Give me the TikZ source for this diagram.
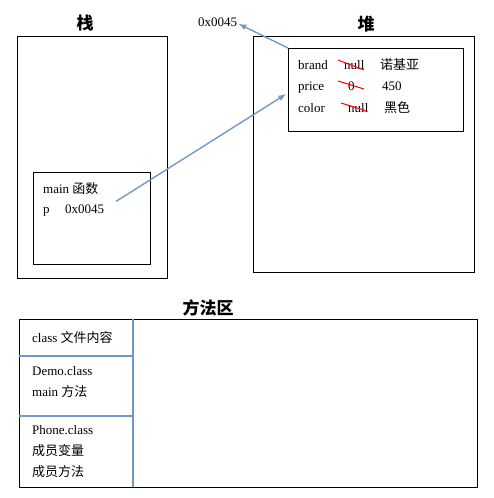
\documentclass[tikz,border=0pt]{standalone}
\usepackage{fontspec}
\setmainfont{Liberation Serif}
\newfontfamily\zhfont{Noto Sans CJK SC}
\usetikzlibrary{arrows.meta}
\definecolor{linkblue}{RGB}{114,153,198}
\definecolor{strikered}{RGB}{255,0,0}
\newcommand{\zh}[1]{{\zhfont #1}}

\begin{document}
\begin{tikzpicture}[
    x=1pt, y=-1pt,
    font=\fontsize{13}{15}\selectfont,
    area/.style={draw, thick, minimum width=#1, anchor=north west, inner sep=0pt},
    title/.style={font=\fontsize{17}{20}\selectfont\zhfont\bfseries, anchor=base},
    txt/.style={anchor=base west, inner sep=0pt},
    link/.style={draw=linkblue, line width=1.4pt, -{Latex[length=8pt, width=6pt]}},
    split/.style={draw=linkblue, line width=1.5pt},
    strike/.style={draw=strikered, line width=1pt}
  ]
    \useasboundingbox (0,0) rectangle (493,498);

    % stack
    \node[title] (stackT) at (85,29) {栈};
    \node[area=150pt, minimum height=242pt] (stack) at (17,36) {};
    \node[area=117pt, minimum height=92pt] (frame) at (33,172) {};
    \node[txt] (fname) at (43,193) {main \zh{函数}};
    \node[txt] (pvar)  at (43,213) {p};
    \node[txt] (pval)  at (65,213) {0x0045};

    % heap
    \node[title] (heapT) at (366,30) {堆};
    \node[area=221pt, minimum height=236pt] (heap) at (253,36) {};
    \node[area=175pt, minimum height=83pt] (obj) at (288,48) {};
    \node[txt] (addr) at (198,26) {0x0045};

    \node[txt] (f1) at (298,69)  {brand};
    \node[txt] (f2) at (298,90)  {price};
    \node[txt] (f3) at (298,112) {color};
    \node[txt] (d1) at (344,69)  {null};
    \node[txt] (d2) at (348,90)  {0};
    \node[txt] (d3) at (348,112) {null};
    \node[txt] (v1) at (380,69)  {\zh{诺基亚}};
    \node[txt] (v2) at (382,90)  {450};
    \node[txt] (v3) at (384,112) {\zh{黑色}};

    \draw[strike] (338,60)  -- (364,70);
    \draw[strike] (338,81)  -- (364,89);
    \draw[strike] (341,103) -- (367,111);

    \path[link] (obj.north west) -- ([xshift=1pt, yshift=-2pt]addr.east);
    \path[link, shorten <=14pt, shorten >=2pt] (pval.east) -- ([yshift=-3pt]obj.west);

    % method area
    \node[title] (methT) at (208,314) {方法区};
    \node[area=458pt, minimum height=168pt] (meth) at (19,319) {};
    \coordinate (top)  at (133,319);
    \coordinate (bot)  at (133,487);
    \coordinate (s1l)  at (19,356);
    \coordinate (s1r)  at (133,356);
    \coordinate (s2l)  at (19,416);
    \coordinate (s2r)  at (133,416);
    \draw[split] (top) -- (bot);
    \draw[split] (s1l) -- (s1r);
    \draw[split] (s2l) -- (s2r);

    \node[txt] (c0) at (32,342) {class \zh{文件内容}};
    \node[txt] (c1) at (32,375) {Demo.class};
    \node[txt] (c2) at (32,396) {main \zh{方法}};
    \node[txt] (c3) at (32,434) {Phone.class};
    \node[txt] (c4) at (32,455) {\zh{成员变量}};
    \node[txt] (c5) at (32,476) {\zh{成员方法}};
  \end{tikzpicture}
\end{document}
